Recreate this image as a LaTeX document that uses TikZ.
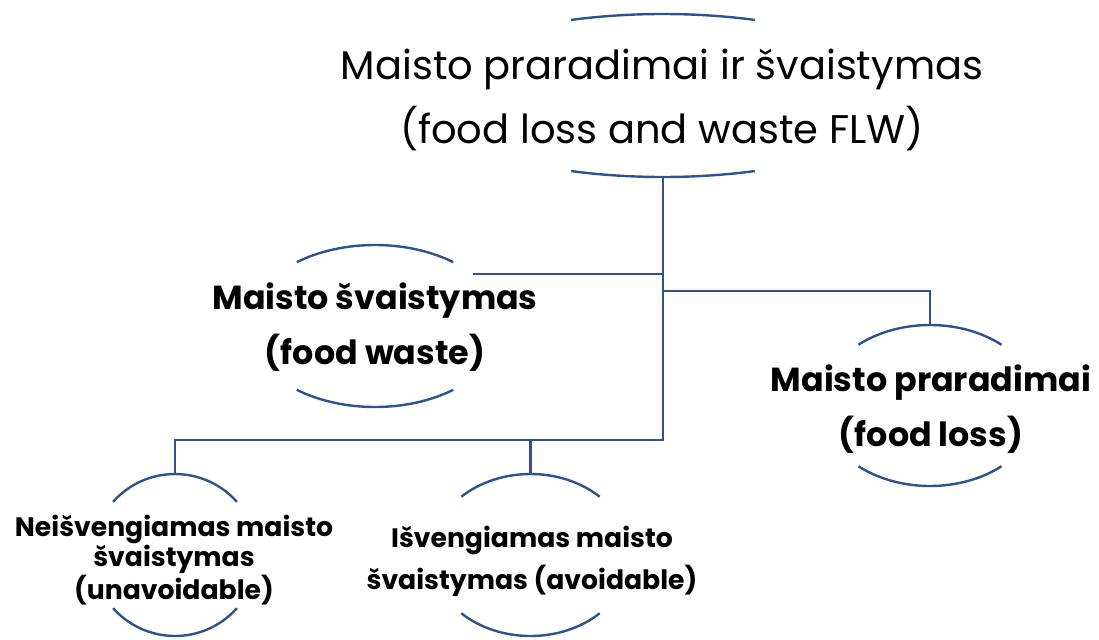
\documentclass[tikz,border=0pt]{standalone}
\usepackage{fontspec}
\setmainfont{Poppins}
\usepackage{xcolor}
\usepackage{tikz}
\usetikzlibrary{calc, positioning, shapes.geometric}
\definecolor{arcblue}{RGB}{47,82,143}
\tikzset{
    link/.style={draw=arcblue, line width=1.8pt},
    oval/.style={ellipse, inner sep=0pt, outer sep=0pt},
    head/.style={align=center, font=\fontsize{30}{48}\selectfont},
    topic/.style={align=center, font=\bfseries\fontsize{25}{41}\selectfont},
    leaf/.style={align=center, font=\bfseries\fontsize{20}{22.5}\selectfont}
}

\begin{document}
\begin{tikzpicture}[x=0.75pt, y=-0.75pt]
    \useasboundingbox (0,0) rectangle (1099,639);

    % Top level
    \node[head] (flw) at (662,99.5) {Maisto praradimai ir švaistymas\\(food loss and waste FLW)};
    \node[oval, minimum width=367.5pt, minimum height=122.25pt] (flw-o) at (663,95.5) {};

    % Second level
    \node[topic] (fw) at (375,327) {Maisto švaistymas\\(food waste)};
    \node[oval, minimum width=190.5pt, minimum height=121.5pt] (fw-o) at (375,326) {};
    \node[topic] (fl) at (931,409) {Maisto praradimai\\(food loss)};
    \node[oval, minimum width=163.5pt, minimum height=120.75pt] (fl-o) at (930,405.5) {};

    % Third level
    \node[leaf] (unav) at (174,560) {Neišvengiamas maisto\\švaistymas\\(unavoidable)};
    \node[oval, minimum width=123pt, minimum height=121.5pt] (unav-o) at (175,555) {};
    \node[leaf, font=\bfseries\fontsize{20}{31.5}\selectfont] (av) at (532,561) {Išvengiamas maisto\\švaistymas (avoidable)};
    \node[oval, minimum width=149.4pt, minimum height=121.5pt] (av-o) at (530.5,555) {};

    % Upper and lower arcs of each oval
    \foreach \nd/\t in {flw/68, fw/52, fl/49, unav/41, av/46}{
        \draw[link] let \p1=($(\nd-o.east)-(\nd-o.center)$), \p2=($(\nd-o.north)-(\nd-o.center)$) in
            ($(\nd-o.center)+(\t:\x1 and \y2)$) arc[start angle=\t, end angle=180-\t, x radius=\x1, y radius=\y2]
            ($(\nd-o.center)+(180+\t:\x1 and \y2)$) arc[start angle=180+\t, end angle=360-\t, x radius=\x1, y radius=\y2];
    }

    % Connections
    \coordinate (junc) at (663,291);
    \draw[link] (flw-o.south) -- ++(0,263) coordinate (bus) -| (unav-o.north);
    \draw[link] (av-o.north) -- (av-o.north |- bus);
    \draw[link] (fw-o.28) -- (fw-o.28 -| flw-o.south);
    \draw[link] (junc) -| (fl-o.north);

\end{tikzpicture}
\end{document}
